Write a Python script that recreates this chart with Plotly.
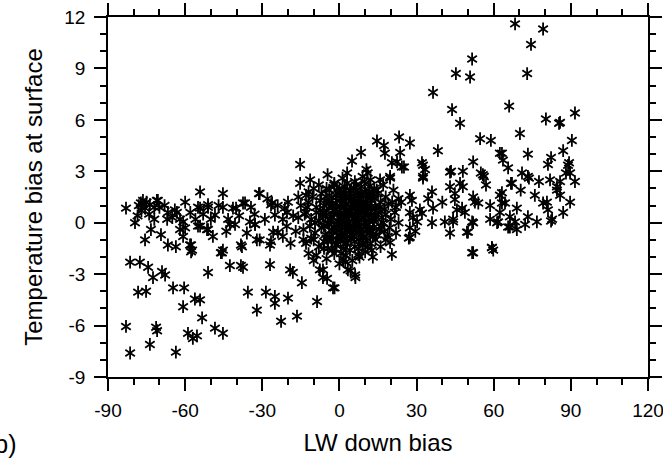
import plotly.graph_objects as go

# LW down bias (x) and temperature bias at surface (y)
lw_bias = [
    # upper right / right spread
    68.3, 79.2, 74.5, 51.6, 45.3, 50.8, 73.0, 36.4, 43.8, 66.0, 46.9, 80.3, 85.4, 85.8, 91.6,
    70.2, 54.7, 58.9, 90.4, 14.6, 23.2, 27.4, 17.3, 8.4, 17.7, 23.6, 38.3, 4.9, 20.4, 22.4,
    25.1, 10.5, 32.1, 33.3, 32.5, 52.0, 43.4, 48.0, 55.0, 56.2, 63.2, 63.6, 65.6, 66.7, 71.0,
    73.7, 73.3, 77.6, 81.1, 82.3, 87.0, 89.3, 89.7, 88.1, 91.6, 81.9, 85.8, 43.0, 46.9, 48.0,
    36.0, 88.9, 84.6, 89.7, 87.0, 79.2, 81.1, 82.3, 76.8, 73.3, 69.0, 69.0, 67.1, 66.3, 66.3,
    63.2, 64.4, 58.6, 58.6, 61.3, 59.3, 59.8, 52.0, 52.0, 54.0, 52.0, 49.6, 48.8, 45.7, 44.9,
    43.0, 55.8, 43.0, 41.0, 44.2, 36.4, 36.0, 32.5, 32.5, 32.1, 30.2, 27.4, 27.4, 27.4, 27.0,
    24.3, 19.7, 20.4, 19.7, 7.8, 6.2, 4.3, 2.3, -1.9, 62.4, 73.3, 84.6, 85.8, 80.7, 82.7,
    68.3, 65.6, 72.2, 62.4, 63.2, 61.7, 62.4, 52.7, 51.6, 50.0, 44.9, 47.7, 44.2, 28.2, 28.6,
    31.3, 27.4, 51.6, 59.3, 70.5, 76.0, 57.0, 40.0, 34.5, 29.5,
    # left band
    -83.0, -77.2, -75.6, -76.4, -73.7, -70.6, -79.5, -73.3, -75.6, -66.7, -63.6, -69.4, -66.7,
    -64.0, -60.0, -62.0, -60.0, -60.8, -57.7, -57.7, -54.2, -55.0, -51.1, -48.4, -54.2, -51.1,
    -49.2, -45.3, -45.3, -43.3, -46.1, -51.1, -42.6, -38.3, -38.3, -40.6, -40.2, -36.7, -34.4,
    -32.8, -31.0, -31.0, -26.6, -25.1, -26.6, -27.0, -23.9, -22.0, -21.2, -78.0, -72.0, -71.0,
    -67.0, -63.2, -60.8, -62.0, -58.1, -57.3, -54.2, -51.1, -55.0, -51.5, -45.7, -45.3, -37.9,
    -42.6, -41.4, -37.5, -34.8, -32.1, -32.8, -26.2, -25.8, -27.0, -20.4, -19.2, -18.1, -14.6,
    -7.6, -6.4, -2.5, -8.7, -77.0, -75.0, -74.0, -78.5, -72.0, -70.0, -68.0, -65.0, -58.0,
    -56.0, -53.0, -50.0, -47.0, -44.0, -39.0, -36.0, -33.0, -29.0, -28.0, -24.0, -22.0, -20.0,
    -18.0, -17.0, -19.0, -16.0, -14.0, -13.0, -12.0, -12.0, -10.0, -20.5, -31.3, -15.3, -15.3,
    -11.4,
    # lower left
    -81.4, -77.6, -74.4, -72.5, -69.0, -67.8, -78.3, -75.2, -64.7, -60.4, -60.8, -56.2, -54.2,
    -53.4, -83.0, -71.3, -70.9, -58.9, -57.0, -55.4, -48.4, -45.3, -81.4, -73.7, -63.6, -35.6,
    -28.6, -25.1, -25.1, -20.0, -32.1, -22.7, -16.5, -37.5,
    # central cluster
    -4.6, 1.2, 9.0, 12.1, 15.8, 19.7, -2.0, 3.0, 6.0, 11.0, -8.0, 17.0,
    -13.0, -10.0, -7.0, -5.0, -3.0, -1.0, 0.5, 2.0, 4.0, 5.5, 7.0, 8.5, 10.0, 12.0, 13.5, 15.0,
    18.0, 21.0, 23.0,
    -15.0, -12.0, -9.0, -7.5, -6.0, -4.0, -2.5, -1.0, 0.0, 1.0, 2.5, 3.5, 4.5, 6.0, 7.5, 8.0,
    9.5, 11.0, 12.5, 14.0, 16.0, 17.5, 19.0, 22.0, 24.0, -10.5,
    -16.0, -13.5, -11.0, -9.0, -8.0, -6.5, -5.0, -3.5, -2.0, -0.5, 0.5, 1.5, 2.5, 3.0, 4.0, 5.0,
    5.5, 6.5, 7.5, 8.5, 9.5, 10.5, 11.5, 12.5, 13.5, 15.0, 16.5, 18.0, 20.0, 21.5, 23.0,
    -14.0, -11.5, -9.5, -7.0, -5.5, -4.0, -2.5, -1.0, 0.0, 1.0, 2.0, 3.5, 4.5, 5.5, 6.5, 7.5,
    8.5, 9.5, 10.5, 12.0, 13.0, 14.5, 16.0, 17.5, 19.5, 22.0,
    -13.0, -10.0, -8.0, -6.0, -4.5, -3.0, -1.5, 0.5, 1.5, 3.0, 4.5, 6.0, 7.5, 9.0, 10.5, 12.0,
    14.0, 16.0, 18.0,
    -9.0, -5.0, -2.0, 0.0, 2.5, 5.0, 7.3, 10.0, 13.0, 1.5, -6.4, -4.8, 6.1, 3.3,
    -3.0, -1.5, 0.8, 2.0, 3.2, 4.2, 5.2, 6.2, 7.0, 8.0, 9.0, 10.0, 11.0, 12.0, 13.0, 14.0, 15.5,
    17.0, -6.0, -7.5, -9.5, -11.0, -12.5, -4.5, 0.2, 1.2, 2.8, 4.0, 6.8, 9.2, 11.8, -3.8, -1.2,
    5.0, 7.8, 3.8, -0.5, 8.7, 10.8, 2.2, -5.2, 13.8, 15.8, 18.8, 20.5,
    # cluster core
    -5.5, -4.2, -3.1, -2.2, -1.4, -0.6, 0.3, 1.1, 1.9, 2.7, 3.6, 4.4, 5.3, 6.1, 7.2, 8.1, 9.0,
    9.9, 10.7, 11.6, 12.4, 13.3,
    -5.0, -3.6, -2.7, -1.8, -0.9, 0.0, 0.9, 1.8, 2.6, 3.4, 4.3, 5.1, 6.0, 6.9, 7.7, 8.6, 9.4,
    10.3, 11.2, 12.1,
    -4.0, -2.0, 0.0, 1.5, 3.0, 4.5, 6.5, 8.0, 9.7, 11.5, 13.0, 14.5,
    -6.0, -4.5, -2.8, -1.1, 0.6, 2.3, 4.1, 5.8, 7.4, 9.1, 10.9, 12.6,
]

t_bias = [
    # upper right / right spread
    11.6, 11.3, 10.4, 9.55, 8.7, 8.5, 8.7, 7.6, 6.6, 6.8, 5.8, 6.05, 5.8, 5.85, 6.4,
    5.2, 4.9, 4.8, 4.8, 4.77, 5.0, 4.65, 4.5, 4.1, 4.05, 4.1, 4.2, 3.6, 3.5, 3.55,
    3.25, 3.1, 3.5, 3.1, 2.7, 3.55, 3.0, 3.0, 2.9, 2.7, 4.05, 3.65, 3.2, 2.3, 2.9,
    2.6, 4.0, 2.4, 3.4, 3.8, 4.2, 3.5, 2.9, 2.9, 2.4, 2.5, 2.4, 2.1, 2.3, 2.1,
    1.8, 3.35, 1.9, 1.2, 0.6, 1.15, 0.75, 0.1, 0.05, 0.35, 0.85, -0.4, 2.3, 0.35, -0.25,
    1.75, 1.15, 1.0, 0.2, 0.0, -1.45, -1.6, -1.75, 0.0, 1.15, 1.5, -0.55, 0.6, 0.75, 1.7,
    2.95, 2.8, -0.6, 0.05, 0.05, 0.85, 0.0, 3.35, 2.6, 0.55, 0.05, 1.6, 0.6, -0.3, -0.9,
    3.25, 2.6, -1.85, -1.15, -2.0, -3.2, -2.8, -2.3, -3.8, 4.05, 2.7, 2.1, 1.6, 1.2, 0.2,
    0.05, -0.25, -0.1, 1.6, 1.15, 0.05, 0.6, 1.2, 0.05, -0.55, 1.35, 0.85, 0.2, 1.3, 0.3,
    0.75, -0.85, -1.75, -1.45, 1.9, 1.6, 2.2, 1.2, 1.4, -0.5,
    # left band
    0.85, 1.15, 0.85, 1.3, 1.05, 1.3, 0.0, -0.4, -1.0, -1.3, -1.4, -0.7, 0.6,
    0.75, 1.2, 0.2, -0.3, -0.8, -1.3, -1.7, 1.8, 0.9, 0.9, 0.45, -0.2, -0.4,
    -0.8, 1.7, 0.9, 0.2, -1.75, -2.9, -2.5, -2.5, -1.3, -0.1, 0.85, 1.15, 0.9,
    -0.1, 1.7, -1.0, 1.05, 0.45, -1.1, -2.45, -0.55, -0.8, 0.85, 1.0, 0.9, 1.3,
    0.2, 0.6, 0.05, -0.4, -1.3, -1.6, 0.85, 1.05, -0.2, -0.4, -1.75, -1.6, -1.4,
    -0.1, 0.85, 1.15, 0.05, -1.0, -0.1, 1.15, -0.55, -1.3, 0.6, -2.75, -2.9, -3.5,
    -2.75, -3.2, -3.8, -4.6, 0.7, 1.2, 0.5, 0.4, 0.2, 0.9, 1.0, 0.3, 0.6,
    0.2, 0.5, 0.2, 1.0, -0.5, 0.4, -0.6, 0.5, 0.2, 1.4, 1.0, 0.2, 1.2,
    0.4, -0.5, -1.2, 1.5, -1.0, 0.6, 1.8, -1.8, -2.2, -0.2, 1.7, 3.4, 2.3,
    2.5,
    # lower left
    -2.3, -2.3, -2.6, -3.2, -2.85, -3.05, -4.05, -4.0, -3.8, -3.8, -4.9, -4.45, -4.5,
    -5.55, -6.05, -6.1, -6.3, -6.45, -6.75, -6.6, -6.15, -6.45, -7.6, -7.1, -7.55, -4.05,
    -4.05, -4.3, -4.7, -4.4, -5.1, -5.75, -5.45, -2.6,
    # central cluster
    2.8, 2.6, 2.7, 2.5, 2.5, 2.7, 2.3, 2.9, 2.4, 2.9, 2.2, 2.2,
    1.6, 2.0, 1.7, 2.0, 1.5, 1.9, 1.6, 2.1, 1.7, 2.0, 1.6, 2.1, 1.8, 1.5, 2.0, 1.7,
    1.5, 1.9, 1.4,
    1.0, 1.2, 0.9, 1.3, 1.0, 1.2, 0.9, 1.3, 1.0, 1.4, 1.1, 0.8, 1.3, 1.0, 1.4, 0.9,
    1.2, 1.0, 1.3, 0.9, 1.2, 0.8, 1.1, 0.9, 1.2, 1.5,
    0.3, 0.5, 0.2, 0.6, 0.1, 0.4, 0.7, 0.2, 0.5, 0.1, 0.6, 0.3, 0.7, 0.0, 0.4, 0.8,
    0.2, 0.5, 0.0, 0.6, 0.3, 0.7, 0.1, 0.5, 0.2, 0.6, 0.3, 0.5, 0.2, 0.6, 0.0,
    -0.4, -0.2, -0.6, -0.3, -0.7, -0.1, -0.5, -0.2, -0.7, -0.3, -0.6, -0.2, -0.5, -0.8, -0.3, -0.6,
    -0.1, -0.5, -0.2, -0.6, -0.3, -0.7, -0.2, -0.5, -0.3, -0.6,
    -1.2, -1.0, -1.4, -1.1, -1.5, -1.0, -1.3, -1.0, -1.5, -1.2, -0.9, -1.4, -1.0, -1.3, -0.9, -1.2,
    -1.0, -1.4, -1.0,
    -1.9, -2.1, -1.8, -2.4, -1.9, -2.2, -1.85, -1.7, -2.0, -2.15, -2.75, -3.25, -3.05, -2.75,
    0.3, 0.8, -0.1, 0.9, 0.5, -0.3, 1.1, -0.1, 0.7, -0.4, 0.9, 0.0, -0.4, 0.9, -0.8, 0.4, -0.4,
    0.0, -0.2, 0.7, 0.0, -0.9, 0.9, 0.0, 0.3, -0.8, -0.9, 1.9, 1.9, -0.9, 1.8, -0.8, -0.6,
    0.5, 1.1, 1.5, -1.0, 1.6, 1.4, 1.7, 1.5, 1.4, 0.9, -0.8, 1.2,
    # cluster core
    0.4, 1.1, -0.4, 0.7, 1.6, -0.1, 0.9, 0.2, 1.3, -0.5, 0.6, 1.5, -0.2, 1.2, 0.3, -0.7, 1.0,
    0.4, 1.6, -0.3, 0.8, 0.1,
    -0.9, 0.2, 1.0, -0.3, 0.5, 1.7, -0.6, 0.4, 1.4, 0.0, 0.9, -0.6, 0.3, 1.3, -0.2, 0.7, -0.8,
    1.1, 0.5, -0.5,
    1.9, 2.2, 2.0, 1.8, 2.3, 1.9, 2.2, 1.7, 2.4, 2.1, 1.7, 1.9,
    -1.5, -1.1, -1.6, -1.3, -1.8, -1.2, -1.6, -1.1, -1.5, -1.2, -1.4, -1.6,
]

assert len(lw_bias) == len(t_bias), (len(lw_bias), len(t_bias))

x_ticks = [-90, -60, -30, 0, 30, 60, 90, 120]
x_tick_labels = ["-90", "-60", "-30", "0", "30", "60", "90", "120"]
y_ticks = [-9, -6, -3, 0, 3, 6, 9, 12]
y_tick_labels = ["-9", "-6", "-3", "0", "3", "6", "9", "12"]

FONT = "Liberation Sans, Arial, Helvetica, sans-serif"

fig = go.Figure()
for sym in ["y-up-open", "y-down-open"]:
    fig.add_trace(go.Scatter(
        x=lw_bias, y=t_bias, mode="markers", showlegend=False, hoverinfo="skip",
        marker=dict(symbol=sym, size=8, color="black", line=dict(color="black", width=1.8)),
    ))

axis_common = dict(
    ticks="outside", ticklen=12, tickwidth=1.5, tickcolor="black",
    showline=True, linewidth=1.5, linecolor="black", mirror="allticks",
    showgrid=False, zeroline=False, ticklabeloverflow="allow",
    tickfont=dict(family=FONT, size=19, color="black"),
)

fig.update_xaxes(
    range=[-90, 120], tickmode="array", tickvals=x_ticks, ticktext=x_tick_labels,
    minor=dict(tickmode="linear", tick0=-90, dtick=10, ticks="outside", ticklen=6,
               tickwidth=1.5, tickcolor="black", showgrid=False),
    title=dict(text="LW down bias", font=dict(family=FONT, size=24, color="black"), standoff=15),
    ticklabelstandoff=3,
    **axis_common,
)
fig.update_yaxes(
    range=[-9, 12], tickmode="array", tickvals=y_ticks, ticktext=y_tick_labels,
    minor=dict(tickmode="linear", tick0=-9, dtick=1, ticks="outside", ticklen=6,
               tickwidth=1.5, tickcolor="black", showgrid=False),
    title=dict(text="Temperature bias at surface", font=dict(family=FONT, size=24, color="black"),
               standoff=15),
    ticklabelstandoff=5,
    **axis_common,
)

fig.add_annotation(
    text="(b)", xref="paper", yref="paper", x=(19 - 108) / 540, y=(377 - 444) / 360,
    xanchor="right", yanchor="middle", showarrow=False,
    font=dict(family=FONT, size=25, color="black"),
)

fig.update_layout(
    width=663, height=462,
    margin=dict(l=108, r=15, t=17, b=85, autoexpand=False),
    plot_bgcolor="white", paper_bgcolor="white",
)

fig.write_html("out.html")
